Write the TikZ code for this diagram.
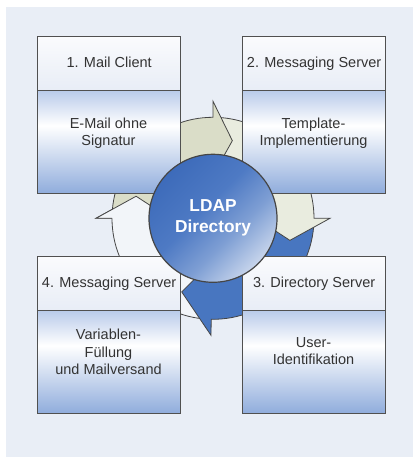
\documentclass[tikz,border=0pt]{standalone}
\usepackage{fontspec}
\setmainfont{Liberation Sans}
\definecolor{bg}{HTML}{E9EEF6}
\definecolor{boxline}{HTML}{505050}
\definecolor{hdtop}{HTML}{FAFBFD}
\definecolor{hdbot}{HTML}{E8EDF6}
\definecolor{bdtop}{HTML}{B9CBEA}
\definecolor{bdbot}{HTML}{8FACDC}
\definecolor{txt}{HTML}{333333}
\definecolor{beigeA}{HTML}{DADDC8}
\definecolor{beigeB}{HTML}{E9ECDF}
\definecolor{blueA}{HTML}{4876C0}
\definecolor{whiteA}{HTML}{F2F5F9}
\definecolor{arrline}{HTML}{454545}
\definecolor{cdark}{HTML}{3D6BBA}
\definecolor{cmid}{HTML}{4E7AC4}
\definecolor{clightA}{HTML}{7F9FD4}
\definecolor{clight}{HTML}{C8D5EC}
\pgfdeclareverticalshading{bodysh}{100bp}{color(0bp)=(bdbot); color(25bp)=(bdbot); color(58bp)=(white); color(75bp)=(bdtop); color(100bp)=(bdtop)}
\pgfdeclareverticalshading{discsh}{100bp}{color(0bp)=(clight); color(25bp)=(clight); color(40bp)=(clightA); color(55bp)=(cmid); color(75bp)=(cdark); color(100bp)=(cdark)}
\begin{document}
\begin{tikzpicture}[x=1pt,y=1pt,
  basefont/.style={font=\fontsize{14.5}{17.4}\selectfont, text=txt},
  hdr/.style={basefont, draw=boxline, line width=1.2pt, top color=hdtop, bottom color=hdbot,
    minimum width=143pt, minimum height=54pt, inner sep=0pt, anchor=north west,
    text height=10.5pt, text depth=3pt},
  bodybox/.style={draw=boxline, line width=1.2pt, shading=bodysh,
    minimum width=143pt, minimum height=103pt, inner sep=0pt, anchor=north west},
  bodytext/.style={basefont, align=center, inner sep=0pt, anchor=base},
  arrow/.style={draw=arrline, line width=0.8pt, line join=miter}
]
\useasboundingbox (0,0) rectangle (413,457);
\fill[white] (0,0) rectangle (413,457);
\fill[bg] (6,0) rectangle (413,450);

% cycle arrows
\begin{scope}[shift={(213,238.7)}]
  % A4 white (left, going up)
  \filldraw[arrow, fill=whiteA] (267:101) arc[start angle=267, end angle=180, radius=101]
    -- (180:117) -- (164:80) -- (180:43) -- (180:59) arc[start angle=180, end angle=267, radius=59] -- cycle;
  % A3 blue (bottom)
  \filldraw[arrow, fill=blueA] (-2:101) arc[start angle=-2, end angle=-91, radius=101]
    -- (-91:117) -- (-113:80) -- (-91:43) -- (-91:59) arc[start angle=-91, end angle=-2, radius=59] -- cycle;
  % A2 beige light (right)
  \filldraw[arrow, fill=beigeB] (88:101) arc[start angle=88, end angle=0, radius=101]
    -- (0:117) -- (-16:80) -- (0:43) -- (0:59) arc[start angle=0, end angle=88, radius=59] -- cycle;
  % A1 beige (top)
  \filldraw[arrow, fill=beigeA] (178:101) arc[start angle=178, end angle=90, radius=101]
    -- (90:117) -- (76:80) -- (90:43) -- (90:59) arc[start angle=90, end angle=178, radius=59] -- cycle;
  % A4 head on top of A1 tail
  \fill[whiteA] (180:117) -- (164:80) -- (180:43) -- cycle;
  \draw[arrow] (180:101) -- (180:117) -- (164:80) -- (180:43);
\end{scope}

% boxes
\node[hdr] (h1) at (37,421) {1. Mail Client};
\node[bodybox] (b1) at (37,367) {};
\node[hdr] (h2) at (242,421) {2. Messaging Server};
\node[bodybox] (b2) at (242,367) {};
\node[hdr] (h4) at (37,201) {4. Messaging Server};
\node[bodybox] (b4) at (37,147) {};
\node[hdr] (h3) at (242,201) {3. Directory Server};
\node[bodybox] (b3) at (242,147) {};

% body texts (anchor = baseline of last line)
\node[bodytext] (t1) at (108.5,311.5) {E-Mail ohne\\Signatur};
\node[bodytext] (t2) at (313.5,311.5) {Template-\\Implementierung};
\node[bodytext] (t3) at (313.5,92) {User-\\Identifikation};
\node[bodytext] (t4) at (108.5,82.3) {Variablen-\\Füllung\\und Mailversand};

% central disc
\node[circle, draw=arrline, line width=1.2pt, shading=discsh, shading angle=45,
  minimum size=128pt, inner sep=0pt, text=white, align=center,
  font=\bfseries\fontsize{17.3}{21}\selectfont] (ldap) at (213,238.7) {LDAP\\Directory};
\end{tikzpicture}
\end{document}
